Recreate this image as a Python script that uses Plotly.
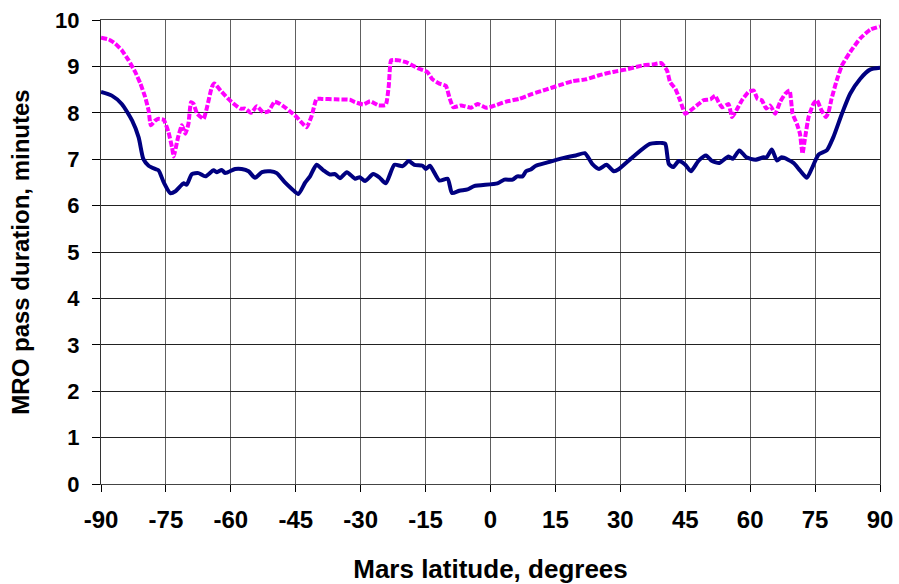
import plotly.graph_objects as go

# Navy series (solid)
lat_a = [-90, -87.5, -85.2, -82.8, -81.3, -80.2, -79, -77.5, -76.7, -75.5, -74, -72.8, -70.9, -70.2,
         -69, -67.5, -65.9, -64, -63.2, -62.1, -61.3, -59, -57.5, -55.9, -54.4, -52.8, -50.9, -49.4,
         -47.5, -45.9, -44.4, -42.8, -41.7, -40.2, -38.6, -37.1, -35.9, -34.8, -33.2, -31.3, -30.2,
         -29, -27.1, -25.7, -24.2, -22.2, -20.3, -18.9, -17.6, -15.7, -14.9, -14.0, -11.8, -9.9,
         -8.9, -7.2, -5.3, -3.8, 1.6, 3.2, 5.1, 6.2, 7.4, 8.2, 9.3, 10.5, 12.8, 17.4, 19.7, 21.8,
         23.5, 25.1, 26.8, 28.5, 29.7, 32.8, 36.8, 39.7, 40.4, 41.2, 42.2, 43.5, 45.0, 46.3, 48.1,
         49.8, 51.2, 52.9, 55.0, 56.0, 57.5, 59.1, 61.2, 63.1, 63.8, 65.0, 66.2, 67.3, 70.0, 71.5,
         73.1, 74.2, 75.8, 77.7, 79.2, 81.2, 83.1, 85.4, 87.7, 90]
dur_a = [8.45, 8.37, 8.19, 7.83, 7.47, 7.0, 6.86, 6.79, 6.76, 6.50, 6.27, 6.31, 6.48, 6.45,
         6.68, 6.70, 6.63, 6.76, 6.72, 6.77, 6.70, 6.79, 6.79, 6.74, 6.60, 6.72, 6.74, 6.70,
         6.50, 6.36, 6.25, 6.50, 6.63, 6.88, 6.76, 6.67, 6.68, 6.59, 6.72, 6.58, 6.61,
         6.53, 6.68, 6.61, 6.48, 6.88, 6.85, 6.96, 6.88, 6.86, 6.79, 6.86, 6.54, 6.58,
         6.27, 6.32, 6.35, 6.42, 6.48, 6.56, 6.56, 6.63, 6.63, 6.74, 6.78, 6.86, 6.92, 7.04, 7.08, 7.13,
         6.90, 6.79, 6.88, 6.74, 6.79, 7.04, 7.33, 7.35, 7.33, 6.90, 6.83, 6.96, 6.88, 6.74, 6.97,
         7.08, 6.96, 6.92, 7.06, 7.01, 7.19, 7.04, 6.99, 7.04, 7.04, 7.21, 6.97, 7.04, 6.92, 6.76,
         6.60, 6.79, 7.10, 7.19, 7.47, 7.98, 8.41, 8.73, 8.93, 8.97]

# Magenta series (dotted)
lat_b = [-90, -88.2, -86.7, -85.2, -83.6, -82.1, -80.9, -79.8, -79, -78.5, -77.5, -76.7, -75.5, -74.4,
         -73.6, -73.2, -72.2, -71.3, -70.5, -69.8, -69.2, -68.6, -67.8, -66.3, -65.5, -64.4, -63.8,
         -62.1, -59.8, -57.8, -56.7, -55.3, -54, -52.5, -51.3, -49.9, -48.6, -47.1, -44.8, -42.5,
         -41.3, -40.2, -39, -35.9, -32.5, -31.3, -29.4, -27.8, -25.9, -24.2, -23.5, -23.0, -22.2,
         -21.1, -19.5, -18.0, -16.5, -14.6, -13.4, -11.8, -10.3, -9.4, -8.6, -6.8, -4.5, -3.0,
         -1.0, 0.5, 3.6, 6.6, 9.7, 12.8, 15.8, 18.9, 22.0, 25.1, 28.2, 31.2, 35.1, 37.4, 39.5,
         40.8, 41.5, 42.7, 43.8, 45.0, 46.2, 47.7, 49.2, 50.8, 51.9, 52.7, 53.5, 55.0, 55.8, 56.8,
         58.1, 59.6, 60.8, 61.7, 62.7, 63.7, 64.6, 65.8, 66.9, 68.1, 69.1, 69.8, 70.8, 71.5, 72.1,
         72.7, 73.5, 74.6, 75.4, 76.5, 77.5, 78.1, 78.8, 80.0, 81.2, 83.1, 85.4, 87.7, 90]
dur_b = [9.62, 9.58, 9.49, 9.35, 9.13, 8.88, 8.63, 8.34, 8.05, 7.73, 7.83, 7.87, 7.85, 7.58,
         7.26, 7.06, 7.47, 7.73, 7.55, 7.76, 8.23, 8.19, 7.98, 7.87, 8.12, 8.55, 8.63,
         8.45, 8.23, 8.09, 8.09, 8.00, 8.14, 8.01, 8.03, 8.24, 8.19, 8.09, 7.91, 7.69,
         7.94, 8.30, 8.30, 8.29, 8.28, 8.23, 8.18, 8.25, 8.16, 8.17, 8.59, 9.13, 9.14,
         9.13, 9.09, 9.02, 8.95, 8.88, 8.72, 8.63, 8.58, 8.30, 8.12, 8.16, 8.11, 8.19,
         8.11, 8.14, 8.24, 8.30, 8.41, 8.50, 8.59, 8.68, 8.72, 8.81, 8.88, 8.93, 9.02, 9.04, 9.07,
         8.91, 8.66, 8.52, 8.27, 7.98, 8.05, 8.16, 8.27, 8.29, 8.37, 8.23, 8.12, 8.19, 7.91, 8.05,
         8.27, 8.45, 8.48, 8.30, 8.27, 8.09, 8.16, 7.98, 8.23, 8.41, 8.48, 7.98, 7.76, 7.55, 7.12,
         7.47, 7.91, 8.19, 8.27, 8.05, 7.91, 8.01, 8.30, 8.70, 9.02, 9.31, 9.60, 9.79, 9.86]

x_ticks = [-90, -75, -60, -45, -30, -15, 0, 15, 30, 45, 60, 75, 90]
y_ticks = [0, 1, 2, 3, 4, 5, 6, 7, 8, 9, 10]

fig = go.Figure()
fig.add_trace(go.Scatter(x=lat_b, y=dur_b, mode="lines",
                         line=dict(color="#FF00FF", width=4, dash="6px,2px",
                                   shape="spline", smoothing=0.4),
                         showlegend=False))
fig.add_trace(go.Scatter(x=lat_a, y=dur_a, mode="lines",
                         line=dict(color="#000080", width=4, shape="spline", smoothing=0.6),
                         showlegend=False))

font_family = "Liberation Sans, Arial, sans-serif"
fig.update_layout(
    width=899, height=584,
    margin=dict(l=101, r=19, t=20, b=100),
    paper_bgcolor="white", plot_bgcolor="white",
    font=dict(family=font_family, color="black", size=20),
)
fig.update_xaxes(
    range=[-90, 90], tickvals=x_ticks, ticktext=[str(v) for v in x_ticks],
    automargin=False,
    showgrid=True, gridcolor="#606060", gridwidth=1,
    showline=True, linecolor="#444444", linewidth=1, mirror=True,
    ticks="outside", ticklen=7, tickcolor="black",
    ticklabelstandoff=7,
    tickfont=dict(family=font_family, size=24, weight="bold"),
    title=dict(text="<b>Mars latitude, degrees</b>", font=dict(size=26), standoff=39),
    zeroline=False,
)
fig.update_yaxes(
    range=[0, 10], tickvals=y_ticks,
    automargin=False,
    showgrid=True, gridcolor="#222222", gridwidth=1,
    showline=True, linecolor="#333333", linewidth=1, mirror=True,
    ticks="outside", ticklen=8, tickcolor="black",
    ticklabelstandoff=8,
    tickfont=dict(family=font_family, size=22, weight="bold"),
    title=dict(text="<b>MRO pass duration, minutes</b>", font=dict(size=24), standoff=18),
    zeroline=False,
)

fig.write_html("out.html")
